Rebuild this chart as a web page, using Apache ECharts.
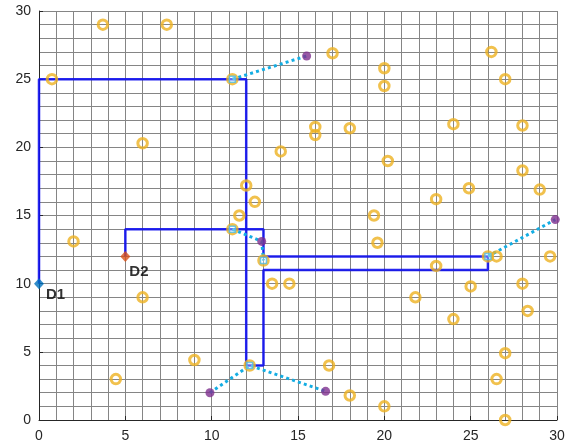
<!DOCTYPE html>
<html>
<head>
<meta charset="utf-8">
<script src="https://cdn.jsdelivr.net/npm/echarts@6/dist/echarts.min.js"></script>
<style>html,body{margin:0;padding:0;background:#fff}#c{width:574px;height:448px}</style>
</head>
<body>
<div id="c"></div>
<script>
// Customer points (hollow orange circles)
var customers = [
  [3.7,29],[7.4,29],[0.75,25],[11.2,25],[17,26.9],[20,25.8],[20,24.5],[26.2,27],[27,25],
  [6,20.3],[16,21.5],[16,20.9],[18,21.4],[24,21.7],[28,21.6],[14,19.7],[20.2,19],[28,18.3],
  [12,17.2],[24.9,17],[29,16.9],[12.5,16],[23,16.2],[11.6,15],[19.4,15],[11.2,14],[2,13.1],
  [19.6,13],[13,11.7],[26,12],[26.5,12],[29.6,12],[23,11.3],[13.5,10],[14.5,10],[28,10],
  [6,9],[25,9.8],[21.8,9],[28.3,8],[24,7.4],[27,4.9],[9,4.4],[12.2,4],[16.8,4],[4.45,3],
  [26.5,3],[18,1.8],[20,1],[27,0]
];
// Pickup points (small squares)
var pickups = [[11.2,25],[11.2,14],[13,11.7],[12.2,4],[26,12]];
// Drop-off points (purple dots)
var dropoffs = [[15.5,26.7],[12.9,13.1],[9.9,2],[16.6,2.1],[29.9,14.7]];
// Depots
var depotD1 = [0,10];
var depotD2 = [5,12];
// Vehicle routes (grid paths)
var routeD1 = [[0,10],[0,25],[12,25],[12,4],[13,4],[13,11],[26,11],[26,12]];
var routeD2 = [[5,12],[5,14],[13,14],[13,12],[26,12]];
// Dotted links
var link1 = [[11.2,25],[15.5,26.7]];
var link2 = [[11.2,14],[12.9,13.1],[13,11.7]];
var link3 = [[9.9,2],[12.2,4],[16.6,2.1]];
var link4 = [[26,12],[29.9,14.7]];
var ticks = [0,5,10,15,20,25,30];

var chart = echarts.init(document.getElementById('c'), null, {renderer:'canvas'});
var gridColor = '#858585';
function axis(isX){
  return {
    type:'value', min:0, max:30, interval:5,
    axisLine:{show:true, onZero:false, lineStyle:{color:'#262626', width:1}},
    axisTick:{show:true, inside:true, length:4, lineStyle:{color:'#262626'}},
    axisLabel:{color:'#262626', fontSize:14, fontFamily:'Liberation Sans, Arial, sans-serif', margin: isX?9:8,
      formatter:function(v){return ticks.indexOf(v)>=0?String(v):'';}},
    splitLine:{show:true, lineStyle:{color:gridColor, width:1}},
    minorTick:{show:false, splitNumber:5},
    minorSplitLine:{show:true, lineStyle:{color:gridColor, width:1}}
  };
}
function route(d){
  return {type:'line', data:d, symbol:'none', z:3, silent:true,
    lineStyle:{color:'#1010f0', width:2.5, opacity:0.9}};
}
function link(d){
  return {type:'line', data:d, symbol:'none', z:4, silent:true,
    lineStyle:{color:'#14ade3', width:3, type:[3,3.2], cap:'butt'}};
}
chart.setOption({
  animation:false,
  grid:{left:39, right:17, top:11, bottom:28, containLabel:false},
  xAxis: axis(true),
  yAxis: axis(false),
  series:[
    route(routeD1), route(routeD2),
    link(link1), link(link2), link(link3), link(link4),
    {type:'scatter', data:customers, symbol:'circle', symbolSize:9.5, z:5,
      itemStyle:{color:'rgba(0,0,0,0)', borderColor:'#EDB120', borderWidth:3}},
    {type:'scatter', data:dropoffs, symbol:'circle', symbolSize:9, z:6,
      itemStyle:{color:'#7E2F8E'}},
    {type:'scatter', data:pickups, symbol:'rect', symbolSize:6, z:7,
      itemStyle:{color:'rgba(255,255,255,0.4)', borderColor:'#4DBEEE', borderWidth:1.5}},
    {type:'scatter', data:[depotD1], symbol:'diamond', symbolSize:[10,11], z:8,
      itemStyle:{color:'#0072BD'},
      label:{show:true, formatter:'D1', position:'right', distance:2, offset:[0,11],
        color:'#000', fontWeight:'bold', fontSize:15, fontFamily:'Liberation Sans, Arial, sans-serif'}},
    {type:'scatter', data:[depotD2], symbol:'diamond', symbolSize:[10,11], z:8,
      itemStyle:{color:'#D95319'},
      label:{show:true, formatter:'D2', position:'right', distance:0, offset:[-1,15],
        color:'#000', fontWeight:'bold', fontSize:15, fontFamily:'Liberation Sans, Arial, sans-serif'}}
  ]
});
</script>
</body>
</html>
